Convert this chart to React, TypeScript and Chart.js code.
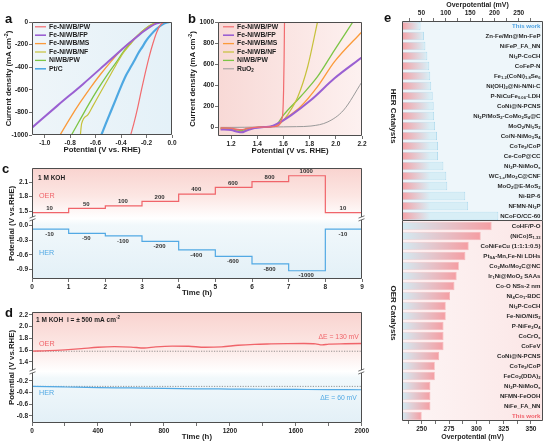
import { useEffect, useRef } from 'react';
import { Chart, registerables } from 'chart.js';

Chart.register(...registerables);

const FAMILY = '"Liberation Sans", Arial, Helvetica, sans-serif';
const INK = '#1e1e1e';
const FRAME = '#4d4d4d';
const OER_RED = '#f0646a';
const HER_BLUE = '#52a9e4';

/* ---------- a: HER polarisation curves (V vs. RHE, mA cm-2) ---------- */
const herNames = ['Fe-NiWB/PW', 'Fe-NiWB/FP', 'Fe-NiWB/MS', 'Fe-NiWB/NF', 'NiWB/PW', 'Pt/C'];
const herFePW_V = [-0.325, -0.3, -0.27, -0.24, -0.21, -0.18, -0.15, -0.12, -0.09, -0.06];
const herFePW_J = [-1000, -900, -760, -600, -450, -310, -190, -90, -25, 0];
const herFeFP_V = [-1.1, -0.9, -0.7, -0.5, -0.354, -0.28, -0.22, -0.17, -0.12, -0.08];
const herFeFP_J = [-935, -740, -550, -350, -204, -135, -80, -40, -12, 0];
const herFeMS_V = [-0.88, -0.8, -0.72, -0.64, -0.56, -0.48, -0.4, -0.354, -0.3, -0.24, -0.18, -0.13, -0.09];
const herFeMS_J = [-1000, -850, -710, -580, -460, -350, -250, -204, -150, -95, -48, -15, 0];
const herFeNF_V = [-0.72, -0.71, -0.66, -0.62, -0.56, -0.5, -0.44, -0.38, -0.33, -0.27, -0.21, -0.16, -0.11];
const herFeNF_J = [-1000, -900, -820, -740, -620, -500, -380, -270, -200, -120, -60, -22, 0];
const herNiPW_V = [-0.79, -0.72, -0.65, -0.58, -0.51, -0.44, -0.38, -0.33, -0.27, -0.21, -0.16, -0.11];
const herNiPW_J = [-1000, -860, -720, -590, -470, -360, -260, -195, -120, -60, -22, 0];
const herPtC_V = [-0.555, -0.52, -0.48, -0.44, -0.4, -0.36, -0.33, -0.3, -0.265, -0.23, -0.2, -0.16, -0.12, -0.08, -0.04, -0.02];
const herPtC_J = [-1000, -900, -790, -680, -570, -470, -410, -350, -277, -215, -160, -105, -60, -25, -5, 0];
const aXTicks = [-1.0, -0.8, -0.6, -0.4, -0.2, 0];
const aYTicks = [0, -200, -400, -600, -800, -1000];

/* ---------- b: OER polarisation curves ---------- */
const oerNames = ['Fe-NiWB/PW', 'Fe-NiWB/FP', 'Fe-NiWB/MS', 'Fe-NiWB/NF', 'NiWB/PW', 'RuO_{2}'];
const oerFePW_V = [1.12, 1.2, 1.25, 1.28, 1.32, 1.38, 1.45, 1.5, 1.54, 1.56, 1.575, 1.585, 1.595, 1.601, 1.605, 1.608];
const oerFePW_J = [-8, -10, -22, -25, -12, -2, 0, 2, 6, 12, 35, 70, 133, 350, 650, 1000];
const oerFeFP_V = [1.12, 1.2, 1.25, 1.28, 1.32, 1.38, 1.45, 1.5, 1.55, 1.66, 1.81, 1.99, 2.2];
const oerFeFP_J = [-22, -28, -45, -50, -32, -10, 0, 5, 30, 114, 257, 464, 664];
const oerFeMS_V = [1.12, 1.2, 1.25, 1.28, 1.32, 1.38, 1.45, 1.5, 1.55, 1.6, 1.73, 1.86, 1.99, 2.2];
const oerFeMS_J = [-18, -24, -42, -46, -30, -8, 0, 3, 18, 67, 193, 384, 622, 908];
const oerFeNF_V = [1.12, 1.2, 1.25, 1.28, 1.32, 1.38, 1.45, 1.5, 1.55, 1.58, 1.63, 1.71, 1.785, 1.86];
const oerFeNF_J = [-15, -22, -40, -45, -28, -8, 0, 5, 18, 38, 114, 289, 574, 1000];
const oerNiPW_V = [1.12, 1.2, 1.25, 1.28, 1.32, 1.38, 1.45, 1.5, 1.55, 1.6, 1.73, 1.86, 1.99, 2.13];
const oerNiPW_J = [-10, -14, -28, -32, -18, -5, 0, 4, 25, 114, 289, 479, 733, 1000];
const oerRuO2_V = [1.12, 1.2, 1.3, 1.4, 1.5, 1.6, 1.7, 1.81, 1.94, 2.06, 2.2];
const oerRuO2_J = [-3, -3, -2, 0, 1, 2, 4, 10, 50, 162, 431];
const bXTicks = [1.2, 1.4, 1.6, 1.8, 2.0, 2.2];
const bYTicks = [0, 200, 400, 600, 800, 1000];

/* ---------- c: multi-step chronopotentiometry ---------- */
const stepStartHours = [0, 1, 2, 3, 4, 5, 6, 7, 8];
const stepEndHour = 9;
const oerStepCurrent = [10, 50, 100, 200, 400, 600, 800, 1000, 10];
const oerStepPotential = [1.47, 1.555, 1.61, 1.7, 1.85, 1.99, 2.11, 2.23, 1.47];
const herStepCurrent = [-10, -50, -100, -200, -400, -600, -800, -1000, -10];
const herStepPotential = [-0.07, -0.16, -0.21, -0.325, -0.5, -0.635, -0.79, -0.93, -0.07];
const cXTicks = [0, 1, 2, 3, 4, 5, 6, 7, 8, 9];
const cYTicks = [2.1, 1.8, 1.5, 0.0, -0.3, -0.6, -0.9];

/* ---------- d: long-term stability at ±500 mA cm-2 ---------- */
const oerStabilityHours = [0, 100, 200, 300, 400, 500, 600, 680, 750, 850, 950, 1050, 1150, 1250, 1350, 1450, 1550, 1650, 1720, 1760, 1800, 1900, 2000];
const oerStabilityPotential = [1.582, 1.59, 1.605, 1.625, 1.648, 1.658, 1.652, 1.635, 1.655, 1.668, 1.665, 1.648, 1.655, 1.682, 1.698, 1.705, 1.71, 1.712, 1.706, 1.688, 1.702, 1.708, 1.712];
const herStabilityHours = [0, 200, 400, 600, 800, 1000, 1200, 1400, 1600, 1800, 2000];
const herStabilityPotential = [-0.295, -0.305, -0.315, -0.322, -0.33, -0.336, -0.34, -0.344, -0.347, -0.35, -0.352];
const oerInitialPotential = 1.58;
const herInitialPotential = -0.295;
const dXTicks = [0, 200, 400, 600, 800, 1000, 1200, 1400, 1600, 1800, 2000];
const dYTicks = [2.2, 2.0, 1.8, 1.6, 1.4, -0.2, -0.4, -0.6, -0.8];

/* ---------- e: overpotential comparison ---------- */
const herCatalysts = [
  'This work', 'Zn-Fe/Mn@Mn-FeP', 'NiFeP_FA_NN', 'Ni_{2}P-CoCH', 'CoFeP-N',
  'Fe_{1.2}(CoNi)_{1.8}Se_{6}', 'Ni(OH)_{2}@Ni-N/Ni-C', 'P-NiCuFe_{0.06}-LDH', 'CoNi@N-PCNS',
  'Ni_{2}P/MoS_{2}-CoMo_{2}S_{4}@C', 'MoO_{2}/Ni_{3}S_{2}', 'Co/N-NiMo_{3}S_{4}', 'CoTe_{2}/CoP',
  'Ce-CoP@CC', 'Ni_{2}P-NiMoO_{x}', 'WC_{1-x}/Mo_{2}C@CNF', 'MoO_{2}@E-MoS_{2}', 'Ni-BP-6',
  'NFMN-Ni_{2}P', 'NCoFO/CC-60',
];
const herOverpotential = [48, 55, 58, 62, 66, 68, 70, 73, 75, 76, 78, 82, 84, 84, 95, 101, 103, 140, 146, 208];
const oerCatalysts = [
  'CoHF/P-O', '(NiCo)S_{1.33}', 'CoNiFeCu (1:1:1:0.5)', 'Pt_{SA}-Mn,Fe-Ni LDHs',
  'Co_{2}Mo/Mo_{2}C@NC', 'Ir_{1}Ni@MoO_{2} SAAs', 'Co-O NSs-2 nm', 'Ni_{4}Co_{1}-BDC',
  'Ni_{2}P-CoCH', 'Fe-NiO/NiS_{2}', 'P-NiFe_{2}O_{4}', 'CoCrO_{x}', 'CoFeV', 'CoNi@N-PCNS',
  'CoTe_{2}/CoP', 'FeCo_{2}(DDA)_{2}', 'Ni_{2}P-NiMoO_{x}', 'NFMN-FeOOH', 'NiFe_FA_NN', 'This work',
];
const oerOverpotential = [314, 304, 293, 290, 284, 282, 280, 276, 272, 272, 270, 270, 270, 266, 262, 262, 258, 258, 258, 250];
const herTicks = [25, 50, 75, 100, 125, 150, 175, 200, 225, 250, 275];
const herTickLabels = [50, 100, 150, 200, 250];
const oerTicks = [237.5, 250, 262.5, 275, 287.5, 300, 312.5, 325, 337.5, 350];
const oerTickLabels = [250, 275, 300, 325, 350];

/* ---------- text helpers (sub/superscript markup: _{..} ^{..}) ---------- */
type Seg = { t: string; k: number };
function parseRich(s: string): Seg[] {
  const out: Seg[] = [];
  let buf = '';
  let i = 0;
  while (i < s.length) {
    const c = s[i];
    if ((c === '_' || c === '^') && s[i + 1] === '{') {
      if (buf) { out.push({ t: buf, k: 0 }); buf = ''; }
      const end = s.indexOf('}', i + 2);
      out.push({ t: s.slice(i + 2, end), k: c === '_' ? -1 : 1 });
      i = end + 1;
    } else {
      buf += c;
      i++;
    }
  }
  if (buf) out.push({ t: buf, k: 0 });
  return out;
}

function drawRich(ctx: CanvasRenderingContext2D, s: string, x: number, y: number, o: any) {
  const segs = parseRich(s);
  const weight = o.weight ?? 'bold';
  const font = (sz: number) => `${weight} ${sz}px ${FAMILY}`;
  ctx.save();
  ctx.translate(x, y);
  if (o.rotate) ctx.rotate(o.rotate);
  ctx.fillStyle = o.color ?? INK;
  ctx.textBaseline = 'middle';
  ctx.textAlign = 'left';
  const sizes = segs.map((sg) => (sg.k ? o.size * 0.68 : o.size));
  const widths = segs.map((sg, i) => { ctx.font = font(sizes[i]); return ctx.measureText(sg.t).width; });
  const total = widths.reduce((a, b) => a + b, 0);
  let cx = o.align === 'right' ? -total : o.align === 'center' ? -total / 2 : 0;
  segs.forEach((sg, i) => {
    ctx.font = font(sizes[i]);
    const dy = sg.k < 0 ? o.size * 0.3 : sg.k > 0 ? -o.size * 0.33 : 0;
    ctx.fillText(sg.t, cx, dy);
    cx += widths[i];
  });
  ctx.restore();
}

function frame(chart: any, skipTop = false) {
  const { left, top, right, bottom } = chart.chartArea;
  const ctx = chart.ctx;
  ctx.save();
  ctx.strokeStyle = FRAME;
  ctx.lineWidth = 1;
  ctx.beginPath();
  const l = Math.round(left) + 0.5, r = Math.round(right) - 0.5;
  const t = Math.round(top) + 0.5, b = Math.round(bottom) - 0.5;
  ctx.moveTo(l, skipTop ? t - 0.5 : t);
  ctx.lineTo(l, b); ctx.lineTo(r, b); ctx.lineTo(r, skipTop ? t - 0.5 : t);
  if (!skipTop) ctx.lineTo(l, t);
  ctx.stroke();
  ctx.restore();
}

function breakMark(chart: any, yPix: number) {
  const ctx = chart.ctx;
  const { left, right } = chart.chartArea;
  ctx.save();
  [left + 0.5, right - 0.5].forEach((x) => {
    ctx.fillStyle = '#ffffff';
    ctx.fillRect(x - 3, yPix - 1.5, 6, 3);
    ctx.strokeStyle = FRAME;
    ctx.lineWidth = 0.8;
    ctx.beginPath();
    ctx.moveTo(x - 3, yPix - 0.3); ctx.lineTo(x + 3, yPix - 2.6);
    ctx.moveTo(x - 3, yPix + 2.6); ctx.lineTo(x + 3, yPix + 0.3);
    ctx.stroke();
  });
  ctx.restore();
}

function legend(chart: any, names: string[], colors: string[], widths: number[], dx: number) {
  const ctx = chart.ctx;
  const { left, top } = chart.chartArea;
  names.forEach((n, i) => {
    const y = top + 4.8 + i * 8.4;
    ctx.save();
    ctx.strokeStyle = colors[i];
    ctx.lineWidth = Math.min(widths[i], 1.6);
    ctx.beginPath();
    ctx.moveTo(left + dx, y); ctx.lineTo(left + dx + 11, y);
    ctx.stroke();
    ctx.restore();
    drawRich(ctx, n, left + dx + 14, y, { size: 6.8 });
  });
}

const tickFont = { family: FAMILY, size: 6.5, weight: 'bold' };

function valueAxis(o: any) {
  return {
    type: 'linear',
    position: o.position,
    min: o.min,
    max: o.max,
    grid: { drawOnChartArea: false, drawTicks: true, tickLength: 3, tickColor: FRAME, tickWidth: 0.8, color: FRAME },
    border: { display: false },
    ticks: {
      font: tickFont, color: INK, padding: 1, autoSkip: false, maxRotation: 0,
      callback: (v: number) => (o.label ? o.label(v) : String(v)),
    },
    afterBuildTicks: (s: any) => { s.ticks = o.ticks.map((v: number) => ({ value: v })); },
    afterFit: (s: any) => { if (o.horizontal) s.height = o.size; else s.width = o.size; },
  };
}

const baseOptions = (padding: any) => ({
  responsive: false,
  animation: false,
  events: [],
  layout: { padding },
  plugins: { legend: { display: false }, tooltip: { enabled: false } },
});

function curveSet(names: string[], curves: number[][][], colors: string[], widths: number[]) {
  return curves.map(([v, j], i) => ({
    label: names[i],
    data: v.map((x, k) => ({ x, y: j[k] })),
    borderColor: colors[i],
    borderWidth: widths[i],
    pointRadius: 0,
    fill: false,
    cubicInterpolationMode: 'monotone',
  }));
}

/* ---------- panel builders ---------- */
const herColors = ['#f26b6e', '#9a60d2', '#fb9a3a', '#c6c13a', '#7cc545', '#4ea8e2'];
const herWidths = [1.2, 2, 1.3, 1.2, 1.3, 2.2];
const oerColors = ['#f26b6e', '#9a60d2', '#fb9a3a', '#c6c13a', '#7cc545', '#9a9a9a'];
const oerWidths = [1.2, 2, 1.3, 1.2, 1.3, 1];

function buildA() {
  const curves = [
    [herFePW_V, herFePW_J], [herFeFP_V, herFeFP_J], [herFeMS_V, herFeMS_J],
    [herFeNF_V, herFeNF_J], [herNiPW_V, herNiPW_J], [herPtC_V, herPtC_J],
  ];
  return {
    type: 'line',
    data: { datasets: curveSet(herNames, curves, herColors, herWidths) },
    options: {
      ...baseOptions({ top: 10, right: 8, bottom: 0, left: 0 }),
      scales: {
        x: valueAxis({ min: -1.1, max: 0, ticks: aXTicks, label: (v: number) => v.toFixed(1), size: 27, horizontal: true }),
        y: valueAxis({ min: -1000, max: 0, ticks: aYTicks, size: 32 }),
      },
    },
    plugins: [{
      id: 'panelA',
      beforeDraw: (c: any) => {
        const { left, top, right, bottom } = c.chartArea;
        const g = c.ctx.createLinearGradient(left, 0, right, 0);
        g.addColorStop(0, '#eef5f9');
        g.addColorStop(1, '#e4f1f8');
        c.ctx.fillStyle = g;
        c.ctx.fillRect(left, top, right - left, bottom - top);
      },
      afterDraw: (c: any) => {
        const { left, top, right, bottom } = c.chartArea;
        frame(c);
        legend(c, herNames, herColors, herWidths, 3);
        drawRich(c.ctx, 'Potential (V vs. RHE)', (left + right) / 2, bottom + 15, { size: 7.8, align: 'center' });
        drawRich(c.ctx, 'Current density (mA cm^{-2})', left - 23, (top + bottom) / 2, { size: 7.8, align: 'center', rotate: -Math.PI / 2 });
      },
    }],
  };
}

function buildB() {
  const curves = [
    [oerFePW_V, oerFePW_J], [oerFeFP_V, oerFeFP_J], [oerFeMS_V, oerFeMS_J],
    [oerFeNF_V, oerFeNF_J], [oerNiPW_V, oerNiPW_J], [oerRuO2_V, oerRuO2_J],
  ];
  return {
    type: 'line',
    data: { datasets: curveSet(oerNames, curves, oerColors, oerWidths) },
    options: {
      ...baseOptions({ top: 10, right: 6, bottom: 0, left: 0 }),
      scales: {
        x: valueAxis({ min: 1.1, max: 2.2, ticks: bXTicks, label: (v: number) => v.toFixed(1), size: 26, horizontal: true }),
        y: valueAxis({ min: -85, max: 1000, ticks: bYTicks, size: 36 }),
      },
    },
    plugins: [{
      id: 'panelB',
      beforeDraw: (c: any) => {
        const { left, top, right, bottom } = c.chartArea;
        const g = c.ctx.createLinearGradient(left, 0, right, 0);
        g.addColorStop(0, '#f8d9d6');
        g.addColorStop(1, '#fdf1f0');
        c.ctx.fillStyle = g;
        c.ctx.fillRect(left, top, right - left, bottom - top);
      },
      afterDraw: (c: any) => {
        const { left, top, right, bottom } = c.chartArea;
        frame(c);
        legend(c, oerNames, oerColors, oerWidths, 5);
        drawRich(c.ctx, 'Potential (V vs. RHE)', (left + right) / 2, bottom + 15, { size: 7.8, align: 'center' });
        drawRich(c.ctx, 'Current density (mA cm^{-2})', left - 25, (top + bottom) / 2, { size: 7.8, align: 'center', rotate: -Math.PI / 2 });
      },
    }],
  };
}

// upper (OER) part of the broken axis is shifted down so that 1.5 V sits one step above 0.0 V
const cAxis = (v: number) => (v >= 1 ? v - 1.2 : v);
const cLabel = (v: number) => (v > 0.15 ? v + 1.2 : v).toFixed(1);

function stepPoints(values: number[]) {
  const pts = stepStartHours.map((h, i) => ({ x: h, y: cAxis(values[i]) }));
  pts.push({ x: stepEndHour, y: cAxis(values[values.length - 1]) });
  return pts;
}

function verticalBackdrop(c: any, yBreak: number) {
  const { left, top, right, bottom } = c.chartArea;
  const ctx = c.ctx;
  const h = bottom - top;
  const f = (yBreak - top) / h;
  const g = ctx.createLinearGradient(0, top, 0, bottom);
  g.addColorStop(0, '#f9d3cf');
  g.addColorStop(f * 0.55, '#fce6e3');
  g.addColorStop(f, '#ffffff');
  g.addColorStop(Math.min(1, f + 0.06), '#f1f8fb');
  g.addColorStop(1, '#e3f0f7');
  ctx.fillStyle = g;
  ctx.fillRect(left, top, right - left, h);
}

function buildC() {
  return {
    type: 'line',
    data: {
      datasets: [
        { label: 'OER', data: stepPoints(oerStepPotential), stepped: true, borderColor: OER_RED, borderWidth: 1.2, pointRadius: 0, fill: false },
        { label: 'HER', data: stepPoints(herStepPotential), stepped: true, borderColor: HER_BLUE, borderWidth: 1.2, pointRadius: 0, fill: false },
      ],
    },
    options: {
      ...baseOptions({ top: 8, right: 8, bottom: 0, left: 0 }),
      scales: {
        x: valueAxis({ min: 0, max: 9, ticks: cXTicks, size: 19, horizontal: true }),
        y: valueAxis({ min: -1.1, max: 1.19, ticks: cYTicks.map(cAxis), label: cLabel, size: 32 }),
      },
    },
    plugins: [{
      id: 'panelC',
      beforeDraw: (c: any) => verticalBackdrop(c, c.scales.y.getPixelForValue(0.15)),
      afterDraw: (c: any) => {
        const { left, top, right, bottom } = c.chartArea;
        const ctx = c.ctx;
        const xs = c.scales.x, ys = c.scales.y;
        frame(c);
        breakMark(c, ys.getPixelForValue(0.15));
        stepStartHours.forEach((h, i) => {
          const x = xs.getPixelForValue(h + 0.48);
          drawRich(ctx, String(oerStepCurrent[i]), x, ys.getPixelForValue(cAxis(oerStepPotential[i])) - 4.5, { size: 6, align: 'center', color: '#333' });
          drawRich(ctx, String(herStepCurrent[i]), x, ys.getPixelForValue(cAxis(herStepPotential[i])) + 5, { size: 6, align: 'center', color: '#333' });
        });
        drawRich(ctx, '1 M KOH', left + 6, top + 10, { size: 6.5 });
        drawRich(ctx, 'OER', left + 7, top + 28, { size: 7.2, weight: 'normal', color: OER_RED });
        drawRich(ctx, 'HER', left + 7, top + 85, { size: 7.2, weight: 'normal', color: HER_BLUE });
        drawRich(ctx, 'Time (h)', (left + right) / 2, bottom + 14, { size: 7.8, align: 'center' });
        drawRich(ctx, 'Potential (V vs.RHE)', left - 20, (top + bottom) / 2, { size: 7.8, align: 'center', rotate: -Math.PI / 2 });
      },
    }],
  };
}

const dAxis = (v: number) => (v >= 1 ? v - 1.275 : v);
const dLabel = (v: number) => (v > -0.05 ? v + 1.275 : v).toFixed(1);

function buildD() {
  const line = (hours: number[], vals: number[]) => hours.map((h, i) => ({ x: h, y: dAxis(vals[i]) }));
  const flat = (v: number) => [{ x: 0, y: dAxis(v) }, { x: 2000, y: dAxis(v) }];
  return {
    type: 'line',
    data: {
      datasets: [
        { label: 'OER', data: line(oerStabilityHours, oerStabilityPotential), borderColor: OER_RED, borderWidth: 1.3, pointRadius: 0, fill: false, cubicInterpolationMode: 'monotone' },
        { label: 'HER', data: line(herStabilityHours, herStabilityPotential), borderColor: HER_BLUE, borderWidth: 1.2, pointRadius: 0, fill: false, cubicInterpolationMode: 'monotone' },
        { label: 'OER start', data: flat(oerInitialPotential), borderColor: '#7a7a7a', borderWidth: 0.8, borderDash: [1.2, 1.4], pointRadius: 0, fill: false },
        { label: 'HER start', data: flat(herInitialPotential), borderColor: '#7a7a7a', borderWidth: 0.8, borderDash: [1.2, 1.4], pointRadius: 0, fill: false },
      ],
    },
    options: {
      ...baseOptions({ top: 12, right: 8, bottom: 0, left: 0 }),
      scales: {
        x: valueAxis({ min: 0, max: 2000, ticks: dXTicks, label: (v: number) => (v % 400 === 0 ? String(v) : ''), size: 21, horizontal: true }),
        y: valueAxis({ min: -0.92, max: 0.975, ticks: dYTicks.map(dAxis), label: dLabel, size: 32 }),
      },
    },
    plugins: [{
      id: 'panelD',
      beforeDraw: (c: any) => verticalBackdrop(c, c.scales.y.getPixelForValue(-0.04)),
      afterDraw: (c: any) => {
        const { left, top, right, bottom } = c.chartArea;
        const ctx = c.ctx;
        frame(c);
        breakMark(c, c.scales.y.getPixelForValue(-0.04));
        drawRich(ctx, '1 M KOH', left + 4, top + 8, { size: 6.5 });
        drawRich(ctx, 'i = ± 500 mA cm^{-2}', left + 35, top + 8, { size: 6.5 });
        drawRich(ctx, 'OER', left + 7, top + 32, { size: 7.2, weight: 'normal', color: OER_RED });
        drawRich(ctx, 'HER', left + 7, top + 81, { size: 7.2, weight: 'normal', color: HER_BLUE });
        drawRich(ctx, 'ΔE = 130 mV', right - 3, top + 25, { size: 6.8, weight: 'normal', color: OER_RED, align: 'right' });
        drawRich(ctx, 'ΔE = 60 mV', right - 5, top + 86, { size: 6.8, weight: 'normal', color: HER_BLUE, align: 'right' });
        drawRich(ctx, 'Time (h)', (left + right) / 2, bottom + 14, { size: 7.8, align: 'center' });
        drawRich(ctx, 'Potential (V vs.RHE)', left - 20, (top + bottom) / 2, { size: 7.8, align: 'center', rotate: -Math.PI / 2 });
      },
    }],
  };
}

function barFill(kind: 'her' | 'oer') {
  return (c: any) => {
    const chart = c.chart;
    const area = chart.chartArea;
    if (!area || typeof c.raw !== 'number') return kind === 'her' ? '#e3c6d0' : '#eec3c6';
    const x0 = area.left;
    const x1 = chart.scales.x.getPixelForValue(c.raw);
    const len = Math.max(2, x1 - x0);
    const g = chart.ctx.createLinearGradient(x0, 0, x1, 0);
    if (kind === 'her') {
      g.addColorStop(0, '#f4a1a6');
      g.addColorStop(Math.min(0.97, 28 / len), '#d8eef6');
      g.addColorStop(1, '#d8eef6');
    } else {
      g.addColorStop(0, '#d3ebf3');
      g.addColorStop(1, '#f59da2');
    }
    return g;
  };
}

function buildE(kind: 'her' | 'oer') {
  const her = kind === 'her';
  const labels = her ? herCatalysts : oerCatalysts;
  const values = her ? herOverpotential : oerOverpotential;
  const shown = her ? herTickLabels : oerTickLabels;
  return {
    type: 'bar',
    data: {
      labels,
      datasets: [{
        data: values,
        backgroundColor: barFill(kind),
        borderColor: her ? '#9fd3ea' : '#f3b3b5',
        borderWidth: 0.8,
        borderSkipped: 'start',
        barPercentage: 0.86,
        categoryPercentage: 1,
      }],
    },
    options: {
      ...baseOptions({ top: 0, right: 3, bottom: 0, left: 0 }),
      indexAxis: 'y',
      scales: {
        x: valueAxis({
          position: her ? 'top' : 'bottom',
          min: her ? 10 : 232,
          max: her ? 300 : 361,
          ticks: her ? herTicks : oerTicks,
          label: (v: number) => (shown.includes(v) ? String(v) : ''),
          size: her ? 21 : 23,
          horizontal: true,
        }),
        y: {
          type: 'category',
          ticks: { display: false },
          grid: { display: false },
          border: { display: false },
          afterFit: (s: any) => { s.width = 22; },
        },
      },
    },
    plugins: [{
      id: her ? 'panelEher' : 'panelEoer',
      beforeDraw: (c: any) => {
        const { left, top, right, bottom } = c.chartArea;
        const ctx = c.ctx;
        if (her) {
          ctx.fillStyle = '#eef6fa';
        } else {
          const g = ctx.createLinearGradient(left, 0, right, 0);
          g.addColorStop(0, '#fdf5f5');
          g.addColorStop(1, '#fbe6e6');
          ctx.fillStyle = g;
        }
        ctx.fillRect(left, top, right - left, bottom - top);
      },
      afterDraw: (c: any) => {
        const { left, top, right, bottom } = c.chartArea;
        const ctx = c.ctx;
        frame(c, !her);
        labels.forEach((name, i) => {
          const y = c.scales.y.getPixelForValue(i);
          const own = name === 'This work';
          drawRich(ctx, name, right - 2.5, y, { size: 6.1, align: 'right', color: own ? (her ? '#4a9fe0' : '#f0606a') : '#2a2a2a' });
        });
        drawRich(ctx, her ? 'HER Catalysts' : 'OER Catalysts', left - 9, her ? top + 95 : top + 92, { size: 8, align: 'center', rotate: Math.PI / 2 });
        if (her) drawRich(ctx, 'Overpotential (mV)', (left + right) / 2 + 5, top - 16, { size: 7, align: 'center' });
        else drawRich(ctx, 'Overpotential (mV)', (left + right) / 2, bottom + 16, { size: 7, align: 'center' });
      },
    }],
  };
}

const buildEher = () => buildE('her');
const buildEoer = () => buildE('oer');

function ChartCanvas({ left, top, width, height, build }: any) {
  const ref = useRef<HTMLCanvasElement | null>(null);
  useEffect(() => {
    if (!ref.current) return;
    const chart = new Chart(ref.current, build() as any);
    return () => chart.destroy();
  }, [build]);
  return (
    <canvas
      ref={ref}
      width={width}
      height={height}
      style={{ position: 'absolute', left, top, width, height, display: 'block' }}
    />
  );
}

function Letter({ x, y, t }: { x: number; y: number; t: string }) {
  return (
    <div style={{ position: 'absolute', left: x, top: y, font: `bold 13px/13px ${FAMILY}`, color: '#111' }}>{t}</div>
  );
}

export default function App() {
  return (
    <div style={{ position: 'absolute', left: 0, top: 0, width: 546, height: 444, background: '#ffffff', overflow: 'hidden' }}>
      <ChartCanvas left={0} top={12} width={180} height={150} build={buildA} />
      <ChartCanvas left={182} top={12} width={186} height={150} build={buildB} />
      <ChartCanvas left={0} top={160} width={370} height={138} build={buildC} />
      <ChartCanvas left={0} top={300} width={370} height={144} build={buildD} />
      <ChartCanvas left={380} top={0} width={166} height={221} build={buildEher} />
      <ChartCanvas left={380} top={221} width={166} height={223} build={buildEoer} />
      <Letter x={5} y={12} t="a" />
      <Letter x={188} y={12} t="b" />
      <Letter x={2} y={162} t="c" />
      <Letter x={5} y={306} t="d" />
      <Letter x={384} y={11} t="e" />
    </div>
  );
}
